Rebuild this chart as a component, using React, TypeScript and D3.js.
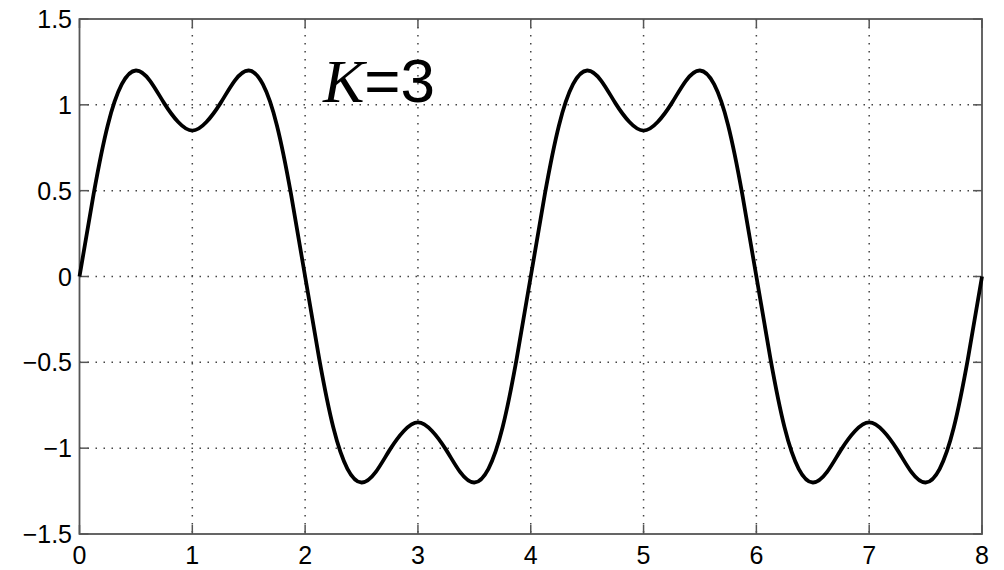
import { useEffect, useRef } from 'react';
import * as d3 from 'd3';

// values, every 0.125 from 0 to 8
const tValues = d3.range(0, 8.0001, 0.125);
const yValues = [
  0, 0.48, 0.88, 1.12, 1.2, 1.14, 1.01, 0.9, 0.85, 0.9, 1.01, 1.14, 1.2, 1.12, 0.88, 0.48,
  0, -0.48, -0.88, -1.12, -1.2, -1.14, -1.01, -0.9, -0.85, -0.9, -1.01, -1.14, -1.2, -1.12, -0.88, -0.48,
  0, 0.48, 0.88, 1.12, 1.2, 1.14, 1.01, 0.9, 0.85, 0.9, 1.01, 1.14, 1.2, 1.12, 0.88, 0.48,
  0, -0.48, -0.88, -1.12, -1.2, -1.14, -1.01, -0.9, -0.85, -0.9, -1.01, -1.14, -1.2, -1.12, -0.88, -0.48,
  0,
];
const xTicks = [0, 1, 2, 3, 4, 5, 6, 7, 8];
const yTicks = [-1.5, -1, -0.5, 0, 0.5, 1, 1.5];
const yTickLabels = ['\u22121.5', '\u22121', '\u22120.5', '0', '0.5', '1', '1.5'];

const App = () => {
  const ref = useRef<SVGSVGElement>(null);

  useEffect(() => {
    const svg = d3.select(ref.current);
    svg.selectAll('*').remove();

    const left = 79.5, right = 982, top = 19, bottom = 534;
    const x = d3.scaleLinear().domain([0, 8]).range([left, right]);
    const y = d3.scaleLinear().domain([-1.5, 1.5]).range([bottom, top]);

    const g = svg.append('g');

    // dotted grid
    g.selectAll('.vgrid')
      .data(xTicks.slice(1, -1))
      .enter().append('line')
      .attr('x1', d => x(d)).attr('x2', d => x(d))
      .attr('y1', top).attr('y2', bottom)
      .attr('stroke', '#444').attr('stroke-width', 1.5)
      .attr('stroke-dasharray', '1.5,6.5');
    g.selectAll('.hgrid')
      .data(yTicks.slice(1, -1))
      .enter().append('line')
      .attr('x1', left).attr('x2', right)
      .attr('y1', d => y(d)).attr('y2', d => y(d))
      .attr('stroke', '#444').attr('stroke-width', 1.5)
      .attr('stroke-dasharray', '1.5,6.5');

    // ticks inside the box on all four sides
    const tl = 9;
    xTicks.forEach(d => {
      g.append('line').attr('x1', x(d)).attr('x2', x(d)).attr('y1', bottom).attr('y2', bottom - tl)
        .attr('stroke', '#555').attr('stroke-width', 1.5);
      g.append('line').attr('x1', x(d)).attr('x2', x(d)).attr('y1', top).attr('y2', top + tl)
        .attr('stroke', '#555').attr('stroke-width', 1.5);
    });
    yTicks.forEach(d => {
      g.append('line').attr('x1', left).attr('x2', left + tl).attr('y1', y(d)).attr('y2', y(d))
        .attr('stroke', '#555').attr('stroke-width', 1.5);
      g.append('line').attr('x1', right).attr('x2', right - tl).attr('y1', y(d)).attr('y2', y(d))
        .attr('stroke', '#555').attr('stroke-width', 1.5);
    });

    // frame
    g.append('rect')
      .attr('x', left).attr('y', top)
      .attr('width', right - left).attr('height', bottom - top)
      .attr('fill', 'none').attr('stroke', '#555').attr('stroke-width', 1.8);

    // curve
    const line = d3.line<number>()
      .x((_, i) => x(tValues[i]))
      .y(d => y(d))
      .curve(d3.curveNatural);
    g.append('path')
      .datum(yValues)
      .attr('d', line)
      .attr('fill', 'none')
      .attr('stroke', '#000')
      .attr('stroke-width', 3.8)
      .attr('stroke-linejoin', 'round');

    // tick labels
    g.selectAll('.xlab')
      .data(xTicks)
      .enter().append('text')
      .attr('x', d => x(d)).attr('y', 564)
      .attr('text-anchor', 'middle')
      .attr('font-family', 'Liberation Sans, Arial, sans-serif')
      .attr('font-size', 25)
      .text(d => d);
    g.selectAll('.ylab')
      .data(yTicks)
      .enter().append('text')
      .attr('x', 72).attr('y', d => y(d) + 9)
      .attr('text-anchor', 'end')
      .attr('font-family', 'Liberation Sans, Arial, sans-serif')
      .attr('font-size', 25)
      .text((_, i) => yTickLabels[i]);

    // annotation
    const ann = g.append('text')
      .attr('x', 323).attr('y', 102)
      .attr('font-size', 62);
    ann.append('tspan')
      .attr('font-family', 'Liberation Serif, Times New Roman, serif')
      .attr('font-style', 'italic')
      .text('K');
    ann.append('tspan')
      .attr('font-family', 'Liberation Sans, Arial, sans-serif')
      .text('=3');
  }, []);

  return (
    <svg ref={ref} width={1004} height={570}
      style={{ position: 'absolute', left: 0, top: 0, background: '#fff' }} />
  );
};

export default App;
